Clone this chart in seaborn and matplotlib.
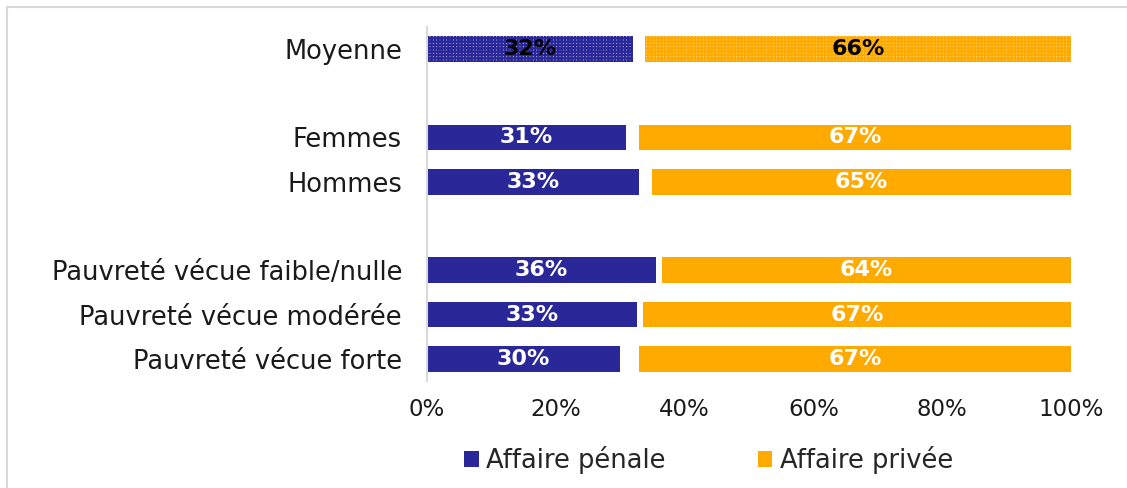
import matplotlib
matplotlib.use("Agg")
import matplotlib.pyplot as plt
import seaborn as sns
import pandas as pd
from matplotlib.patches import Patch
from matplotlib.lines import Line2D

categories = ["Moyenne", "Femmes", "Hommes",
              "Pauvreté vécue faible/nulle", "Pauvreté vécue modérée", "Pauvreté vécue forte"]
positions = [0, 2, 3, 5, 6, 7]
penale = [32.0, 30.9, 32.9, 35.5, 32.6, 30.0]
gap = [1.9, 2.0, 2.0, 1.0, 1.0, 2.9]
privee = [66.1, 67.1, 65.1, 63.5, 66.4, 67.1]
label_penale = ["32%", "31%", "33%", "36%", "33%", "30%"]
label_privee = ["66%", "67%", "65%", "64%", "67%", "67%"]
xticks = [0, 20, 40, 60, 80, 100]
xtick_labels = ["0%", "20%", "40%", "60%", "80%", "100%"]

BLUE = "#2A2899"
ORANGE = "#FFAA00"

sns.set_theme(style="white")
plt.rcParams["font.family"] = ["DejaVu Sans"]
plt.rcParams["hatch.linewidth"] = 1.6

df = pd.DataFrame({"pos": positions, "penale": penale, "gap": gap, "privee": privee})
df["total"] = df["penale"] + df["gap"] + df["privee"]
df["cover"] = df["penale"] + df["gap"]

fig = plt.figure(figsize=(11.27, 4.88), dpi=100)
ax = fig.add_axes([427 / 1127, 1 - 381 / 488, (1071 - 427) / 1127, (381 - 26.8) / 488])

H = 0.58
sns.barplot(data=df, x="total", y="pos", orient="h", native_scale=True, width=H,
            color=ORANGE, saturation=1, ax=ax, linewidth=0)
n0 = len(ax.patches)
sns.barplot(data=df, x="cover", y="pos", orient="h", native_scale=True, width=H,
            color="white", saturation=1, ax=ax, linewidth=0)
n1 = len(ax.patches)
sns.barplot(data=df, x="penale", y="pos", orient="h", native_scale=True, width=H,
            color=BLUE, saturation=1, ax=ax, linewidth=0)

orange_patches = ax.patches[:n0]
blue_patches = ax.patches[n1:]

def find(patches, y):
    for p in patches:
        if abs(p.get_y() + p.get_height() / 2 - y) < 0.01:
            return p

pm_o = find(orange_patches, 0)
pm_b = find(blue_patches, 0)
for p, c, light in ((pm_o, ORANGE, "#FFE2A8"), (pm_b, BLUE, "#B8B8E6")):
    p.set_facecolor(light)
    p.set_edgecolor(c)
    p.set_hatch("+++++")
    p.set_linewidth(0)

for i, y in enumerate(positions):
    col = "black" if y == 0 else "white"
    ax.text(penale[i] / 2, y, label_penale[i], ha="center", va="center",
            color=col, fontsize=16, fontweight="bold")
    ax.text(penale[i] + gap[i] + privee[i] / 2, y, label_privee[i], ha="center",
            va="center", color=col, fontsize=16, fontweight="bold")

ax.set_xlim(0, 100)
ax.set_ylim(7.5, -0.5)
ax.set_yticks(positions)
ax.set_yticklabels(categories, fontsize=18.5, color="#1a1a1a")
ax.set_xticks(xticks)
ax.set_xticklabels(xtick_labels, fontsize=16.5, color="#1a1a1a")
ax.tick_params(axis="y", length=0, pad=18)
ax.tick_params(axis="x", length=0, pad=12)
ax.set_xlabel("")
ax.set_ylabel("")
for s in ["top", "right", "bottom"]:
    ax.spines[s].set_visible(False)
ax.spines["left"].set_color("#D9D9D9")
ax.spines["left"].set_linewidth(1.5)

handles = [Patch(facecolor=BLUE, edgecolor="none"), Patch(facecolor=ORANGE, edgecolor="none")]
fig.legend(handles, ["Affaire pénale", "Affaire privée"], loc="center",
           bbox_to_anchor=(0.629, 1 - 460 / 488), ncol=2, frameon=False,
           fontsize=18.5, handlelength=0.55, handleheight=0.55, handletextpad=0.3,
           columnspacing=3.6)

# outer frame (top and left visible)
fig.add_artist(Line2D([6.5 / 1127, 1], [1 - 6.5 / 488] * 2, transform=fig.transFigure,
                      color="#D9D9D9", lw=1.5))
fig.add_artist(Line2D([6.5 / 1127] * 2, [0, 1 - 6.5 / 488], transform=fig.transFigure,
                      color="#D9D9D9", lw=1.5))

fig.savefig("out.png", dpi=100)
